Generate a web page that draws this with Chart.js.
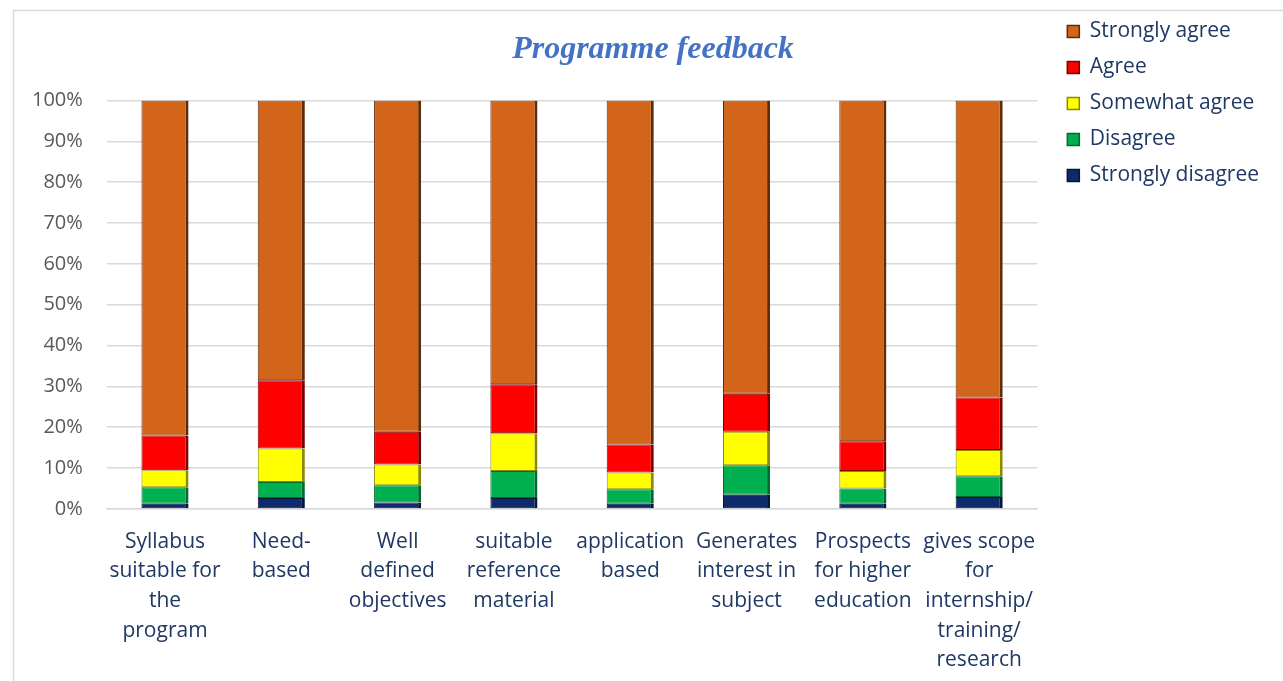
<!DOCTYPE html>
<html>
<head>
<meta charset="utf-8">
<script src="https://cdn.jsdelivr.net/npm/chart.js@4.4.0/dist/chart.umd.min.js"></script>
<style>
  body { margin: 0; background: #fff; }
  canvas { display: block; }
</style>
</head>
<body>
<canvas id="feedbackChart" width="1283" height="681"></canvas>
<script>
// categories (x axis labels, wrapped as in the original)
const categories = [
    ['Syllabus', 'suitable for', 'the', 'program'],
    ['Need-', 'based'],
    ['Well', 'defined', 'objectives'],
    ['suitable', 'reference', 'material'],
    ['application', 'based'],
    ['Generates', 'interest in', 'subject'],
    ['Prospects', 'for higher', 'education'],
    ['gives scope', 'for', 'internship/', 'training/', 'research']
];

// percentages
const stronglyDisagree = [1.3, 2.7, 1.6, 2.7, 1.3, 3.5, 1.3, 2.9];
const disagree         = [4.0, 3.9, 4.2, 6.6, 3.5, 7.2, 3.7, 5.1];
const somewhatAgree    = [4.2, 8.2, 5.1, 9.2, 4.1, 8.2, 4.3, 6.4];
const agree            = [8.5, 16.7, 8.0, 12.0, 6.9, 9.3, 7.3, 12.9];
const stronglyAgree    = [82.0, 68.5, 81.1, 69.5, 84.2, 71.8, 83.4, 72.7];

const yTicks = [0, 10, 20, 30, 40, 50, 60, 70, 80, 90, 100];

const navy = '#1F3864';
const uiFont = "'Open Sans', sans-serif";

function makeSet(label, values, fill, edge) {
    return {
        label: label,
        data: values,
        backgroundColor: fill,
        borderColor: edge,
        borderWidth: { left: 1, top: 1, bottom: 1, right: 3 },
        borderSkipped: false,
        barPercentage: 1,
        categoryPercentage: 0.405
    };
}

// white background + light frame round the chart
const framePlugin = {
    id: 'frame',
    beforeDraw(chart) {
        const c = chart.ctx;
        c.save();
        c.fillStyle = '#fff';
        c.fillRect(0, 0, chart.width, chart.height);
        c.strokeStyle = '#d9d9d9';
        c.lineWidth = 1.5;
        c.strokeRect(13.5, 10.5, chart.width + 20, chart.height + 20);
        c.restore();
    }
};

// nudge legend and title a little, like the original
const boxShift = {
    id: 'boxShift',
    afterLayout(chart) {
        const lg = chart.legend;
        lg.left += 15; lg.right += 15;
        lg.top += 6; lg.bottom += 6;
        const tt = chart.titleBlock;
        tt.left += 22; tt.right += 22;
    }
};

const ctx = document.getElementById('feedbackChart').getContext('2d');
const chart = new Chart(ctx, {
    type: 'bar',
    data: {
        labels: categories,
        datasets: [
            makeSet('Strongly disagree', stronglyDisagree, '#0F2A6B', '#06153a'),
            makeSet('Disagree', disagree, '#00B050', '#006b30'),
            makeSet('Somewhat agree', somewhatAgree, '#FFFF00', '#8a8a00'),
            makeSet('Agree', agree, '#FF0000', '#7a0000'),
            makeSet('Strongly agree', stronglyAgree, '#D2651A', '#5e2c08')
        ]
    },
    options: {
        responsive: false,
        animation: false,
        layout: { padding: { left: 8, right: 29, top: 0, bottom: -4 } },
        plugins: {
            title: {
                display: true,
                text: 'Programme feedback',
                color: '#4472C4',
                font: { family: "'Liberation Serif', 'Times New Roman', serif", size: 32, weight: 'bold', style: 'italic' },
                padding: { top: 31, bottom: 31 }
            },
            legend: {
                position: 'right',
                align: 'start',
                reverse: true,
                labels: {
                    boxWidth: 12,
                    boxHeight: 12,
                    padding: 15,
                    color: navy,
                    font: { family: uiFont, size: 21 }
                }
            },
            tooltip: { enabled: false }
        },
        scales: {
            x: {
                stacked: true,
                grid: { display: false },
                border: { color: '#d9d9d9', width: 1.5 },
                ticks: {
                    color: navy,
                    maxRotation: 0,
                    autoSkip: false,
                    padding: 10,
                    font: { family: uiFont, size: 21, lineHeight: 1.41 }
                }
            },
            y: {
                stacked: true,
                min: 0,
                max: 100,
                afterBuildTicks: (axis) => { axis.ticks = yTicks.map(v => ({ value: v })); },
                grid: { color: '#d9d9d9', lineWidth: 1.5, drawTicks: false },
                border: { display: false },
                ticks: {
                    color: '#595959',
                    padding: 24,
                    font: { family: uiFont, size: 20 },
                    callback: (v) => v + '%'
                }
            }
        }
    },
    plugins: [framePlugin, boxShift]
});
</script>
</body>
</html>
